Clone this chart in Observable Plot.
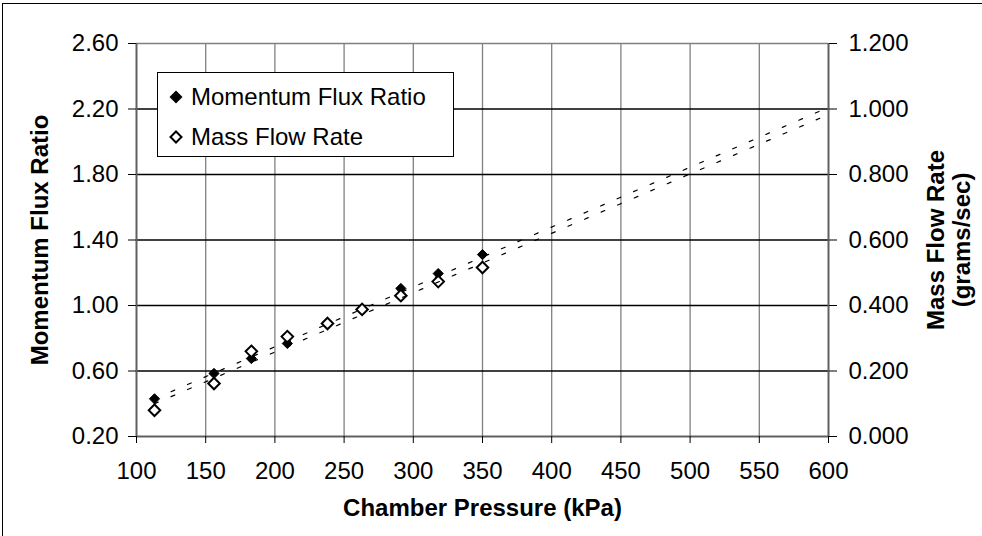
<!DOCTYPE html>
<html>
<head>
<meta charset="utf-8">
<script src="https://cdn.jsdelivr.net/npm/d3@7"></script>
<script src="https://cdn.jsdelivr.net/npm/@observablehq/plot@0.6"></script>
<style>
  body { margin: 0; background: #fff; }
  #wrap { position: relative; width: 982px; height: 536px; overflow: hidden; font-family: "Liberation Sans", Arial, sans-serif; }
  #border { position: absolute; left: 2px; top: 3px; width: 1200px; height: 1200px; border: 1.5px solid #000; box-sizing: border-box; }
  #chart { position: absolute; left: 0; top: 0; }
  #legend { position: absolute; left: 157px; top: 72px; width: 297px; height: 85px; border: 1px solid #000; background: #fff; box-sizing: border-box; font-size: 24px; color: #000; }
  .row { position: absolute; left: 0; height: 30px; display: flex; align-items: center; }
  .row svg { margin-left: 11px; margin-right: 8px; }
</style>
</head>
<body>
<div id="wrap">
  <div id="border"></div>
  <div id="chart"></div>
  <div id="legend"></div>
</div>
<script>
// ---- data ----
const pressure = [113, 156, 183, 209, 238, 263, 291, 318, 350];            // kPa
const momentumFluxRatio = [0.43, 0.585, 0.676, 0.768, 0.89, 0.975, 1.104, 1.195, 1.311];
const massFlowRate = [0.080, 0.162, 0.260, 0.305, 0.345, 0.388, 0.430, 0.473, 0.516]; // g/s

// trend lines (end points)
const trendPressure = [113, 600];
const momentumTrend = [0.43, 2.21];
const massTrend = [0.100, 0.983];

// tick labels
const xTicks = [100, 150, 200, 250, 300, 350, 400, 450, 500, 550, 600];
const leftTicks = [0.20, 0.60, 1.00, 1.40, 1.80, 2.20, 2.60];
const rightTicks = [0.000, 0.200, 0.400, 0.600, 0.800, 1.000, 1.200];

const seriesNames = ["Momentum Flux Ratio", "Mass Flow Rate"];

// mass flow (right axis) -> momentum flux ratio (left axis) scale
const toLeft = m => m * 2 + 0.2;

const points = pressure.map((p, i) => ({p, mfr: momentumFluxRatio[i], mass: massFlowRate[i]}));
const trendM = trendPressure.map((p, i) => ({p, y: momentumTrend[i]}));
const trendF = trendPressure.map((p, i) => ({p, y: toLeft(massTrend[i])}));
const rightTickPos = rightTicks.map((m, i) => ({y: toLeft(m), label: m.toFixed(3)}));

const font = "'Liberation Sans', Arial, sans-serif";

const chart = Plot.plot({
  width: 982,
  height: 536,
  marginLeft: 136,
  marginRight: 154,
  marginTop: 43,
  marginBottom: 100,
  style: {fontFamily: font, fontSize: "24px", background: "transparent", color: "#000"},
  x: {type: "linear", domain: [100, 600]},
  y: {type: "linear", domain: [0.2, 2.6]},
  marks: [
    Plot.gridX(xTicks.slice(1, -1), {stroke: "#808080", strokeOpacity: 1, strokeWidth: 1.3}),
    Plot.gridY(leftTicks.slice(1, -1), {stroke: "#000", strokeOpacity: 1, strokeWidth: 1.3}),
    Plot.ruleY([leftTicks[leftTicks.length - 1]], {stroke: "#808080", strokeWidth: 1.5}),
    Plot.ruleX([xTicks[xTicks.length - 1]], {stroke: "#606060", strokeWidth: 2}),
    Plot.ruleX([xTicks[0]], {stroke: "#606060", strokeWidth: 2}),
    Plot.ruleY([leftTicks[0]], {stroke: "#606060", strokeWidth: 2}),
    Plot.axisY(leftTicks, {anchor: "left", tickSize: 8, tickPadding: 10, tickFormat: d => d.toFixed(2), fontSize: 24, label: null}),
    Plot.axisY(rightTickPos.map(d => d.y), {anchor: "right", tickSize: 8, tickPadding: 12,
      tickFormat: (d, i) => rightTickPos[i].label, fontSize: 24, label: null}),
    Plot.axisX(xTicks, {anchor: "bottom", tickSize: 7, tickPadding: 18, tickFormat: d => String(d), fontSize: 24, label: null}),
    Plot.text(["Momentum Flux Ratio"], {frameAnchor: "left", dx: -96, rotate: -90, textAnchor: "middle", lineAnchor: "middle", fontSize: 24, fontWeight: "bold", fill: "#000"}),
    Plot.text(["Mass Flow Rate\n(grams/sec)"], {frameAnchor: "right", dx: 120, rotate: -90, textAnchor: "middle", lineAnchor: "middle", fontSize: 24, fontWeight: "bold", lineHeight: 1.1, fill: "#000"}),
    Plot.text(["Chamber Pressure (kPa)"], {frameAnchor: "bottom", dy: 72, lineAnchor: "middle", fontSize: 24, fontWeight: "bold", fill: "#000"}),
    Plot.dot(points, {x: "p", y: "mfr", symbol: "diamond2", r: 4.6, fill: "#000", stroke: "#000", strokeWidth: 1}),
    Plot.dot(points, {x: "p", y: d => toLeft(d.mass), symbol: "diamond2", r: 5.2, fill: "#fff", stroke: "#000", strokeWidth: 2}),
    Plot.line(trendM, {x: "p", y: "y", stroke: "#000", strokeWidth: 1.2, strokeDasharray: "4 14"}),
    Plot.line(trendF, {x: "p", y: "y", stroke: "#000", strokeWidth: 1.2, strokeDasharray: "4 14"})
  ]
});
document.getElementById("chart").appendChild(chart);

// legend
const legend = document.getElementById("legend");
const rows = [
  {name: seriesNames[0], fill: "#000", top: 9},
  {name: seriesNames[1], fill: "#fff", top: 49}
];
rows.forEach(r => {
  const div = document.createElement("div");
  div.className = "row";
  div.style.top = r.top + "px";
  const sw = r.fill === "#000"
    ? `<svg width="14" height="14" viewBox="0 0 14 14"><path d="M7,0.5L13.5,7L7,13.5L0.5,7Z" fill="#000"/></svg>`
    : `<svg width="14" height="14" viewBox="0 0 14 14"><path d="M7,1.5L12.5,7L7,12.5L1.5,7Z" fill="#fff" stroke="#000" stroke-width="2"/></svg>`;
  div.innerHTML = sw + `<span>${r.name}</span>`;
  legend.appendChild(div);
});
</script>
</body>
</html>
